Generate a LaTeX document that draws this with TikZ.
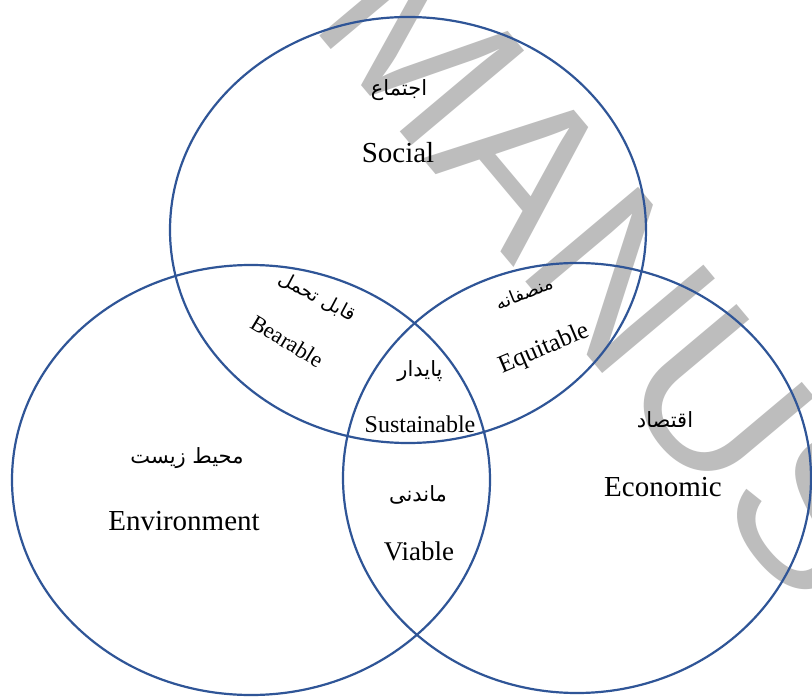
\documentclass[tikz,border=0pt]{standalone}
\usepackage{fontspec}
\setmainfont{Liberation Serif}
\newfontfamily\arabicfont[Script=Arabic]{DejaVu Sans}
\newfontfamily\wmfont{Liberation Sans}
\TeXXeTstate=1
\definecolor{vennblue}{HTML}{2F5597}
\definecolor{wmgray}{HTML}{BDBDBD}
\begin{document}
\begin{tikzpicture}[x=1pt,y=-1pt,
  venn/.style={draw=vennblue,line width=2.2pt},
  en/.style={font=\fontsize{#1}{#1}\selectfont, inner sep=0pt},
  en/.default=29,
  fa/.style={font=\arabicfont\fontsize{#1}{#1}\selectfont, inner sep=0pt},
  fa/.default=21,
  wm/.style={font=\wmfont\fontsize{214}{214}\selectfont, text=wmgray, inner sep=0pt, anchor=base west, rotate=-50}]
\useasboundingbox (0,0) rectangle (812,698);
\clip (0,0) rectangle (812,698);
\fill[white] (0,0) rectangle (812,698);
\node[wm] (wm) at (308,22) {MANUS};
% ellipses
\draw[venn] (408,230) ellipse [x radius=238, y radius=213];
\draw[venn] (251,480) ellipse [x radius=239, y radius=215];
\draw[venn] (577,478) ellipse [x radius=234, y radius=215];
% labels
\node[fa] (socfa) at (399,90) {\beginR اجتماع\endR};
\node[en] (soc) at (398,153) {Social};
\node[fa=19, rotate=-28] (bearfa) at (317,297) {\beginR قابل تحمل\endR};
\node[en=22.5, rotate=-31] (bear) at (287,341) {Bearable};
\node[fa=18, rotate=22] (equfa) at (524,293) {\beginR منصفانه\endR};
\node[en=25, rotate=23] (equ) at (544,349) {Equitable};
\node[fa] (susfa) at (420,371) {\beginR پایدار\endR};
\node[en=24] (sus) at (420,424) {Sustainable};
\node[fa] (envfa) at (187,458) {\beginR محیط زیست\endR};
\node[en] (env) at (184,521) {Environment};
\node[fa] (viafa) at (418,495) {\beginR ماندنی\endR};
\node[en=27] (via) at (419,551) {Viable};
\node[fa] (ecofa) at (665,420) {\beginR اقتصاد\endR};
\node[en] (eco) at (663,487) {Economic};
\end{tikzpicture}
\end{document}
